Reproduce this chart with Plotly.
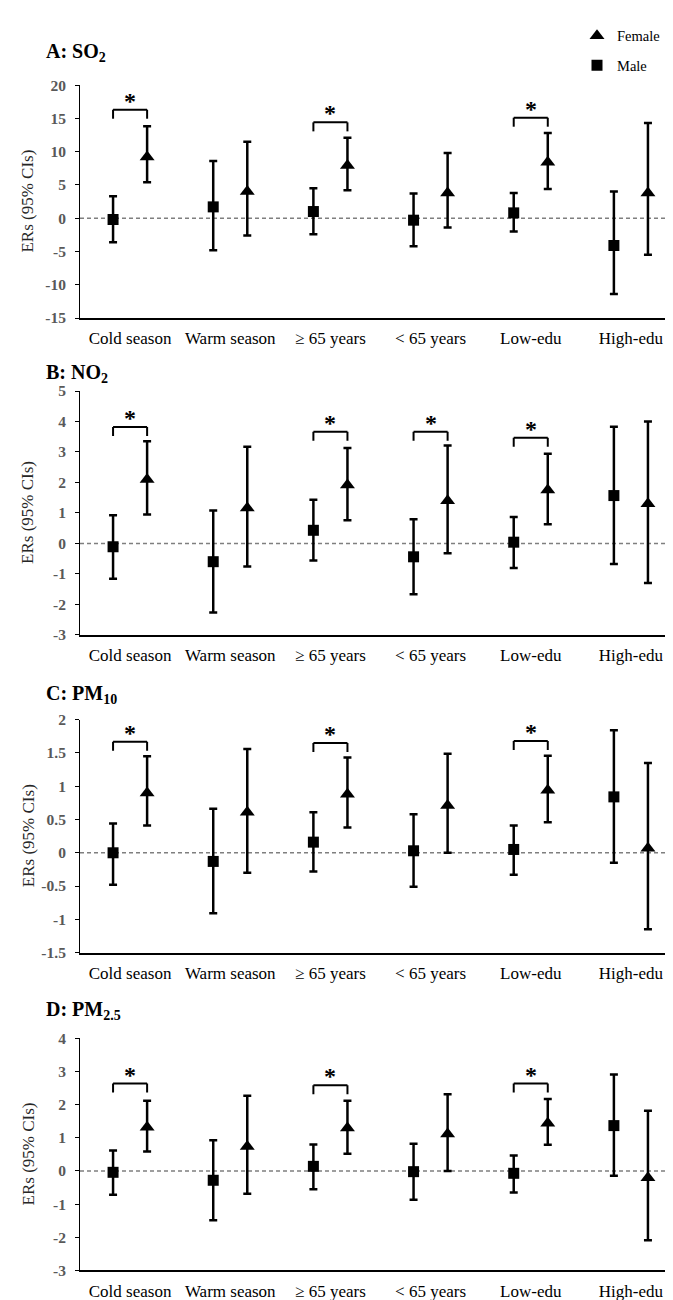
import plotly.graph_objects as go

# ---------------- data ----------------
categories = ["Cold season", "Warm season", "\u2265 65 years", "< 65 years", "Low-edu", "High-edu"]

panel_titles = ["A: SO<sub>2</sub>", "B: NO<sub>2</sub>", "C: PM<sub>10</sub>", "D: PM<sub>2.5</sub>"]

A_male = [-0.2, 1.7, 1.0, -0.3, 0.8, -4.1]
A_male_lo = [-3.6, -4.8, -2.4, -4.2, -2.0, -11.4]
A_male_hi = [3.3, 8.6, 4.5, 3.7, 3.8, 4.0]
A_female = [9.2, 4.0, 7.9, 3.8, 8.4, 3.8]
A_female_lo = [5.4, -2.6, 4.2, -1.4, 4.4, -5.5]
A_female_hi = [13.8, 11.5, 12.1, 9.8, 12.8, 14.3]
A_sig = [0, 2, 4]
A_sig_h = [16.3, 14.4, 15.1]
A_ticks = [20, 15, 10, 5, 0, -5, -10, -15]
A_ticktext = ["20", "15", "10", "5", "0", "-5", "-10", "-15"]

B_male = [-0.11, -0.6, 0.43, -0.44, 0.04, 1.57]
B_male_lo = [-1.16, -2.27, -0.56, -1.67, -0.81, -0.68]
B_male_hi = [0.92, 1.08, 1.43, 0.79, 0.87, 3.83]
B_female = [2.1, 1.16, 1.92, 1.4, 1.75, 1.3]
B_female_lo = [0.95, -0.76, 0.76, -0.32, 0.63, -1.3]
B_female_hi = [3.35, 3.17, 3.13, 3.21, 2.94, 4.0]
B_sig = [0, 2, 3, 4]
B_sig_h = [3.82, 3.66, 3.66, 3.47]
B_ticks = [5, 4, 3, 2, 1, 0, -1, -2, -3]
B_ticktext = ["5", "4", "3", "2", "1", "0", "-1", "-2", "-3"]

C_male = [0.0, -0.13, 0.16, 0.03, 0.05, 0.84]
C_male_lo = [-0.48, -0.91, -0.28, -0.51, -0.33, -0.15]
C_male_hi = [0.44, 0.66, 0.61, 0.58, 0.41, 1.84]
C_female = [0.9, 0.61, 0.88, 0.71, 0.94, 0.07]
C_female_lo = [0.41, -0.30, 0.38, 0.0, 0.46, -1.15]
C_female_hi = [1.45, 1.56, 1.43, 1.49, 1.46, 1.35]
C_sig = [0, 2, 4]
C_sig_h = [1.67, 1.65, 1.68]
C_ticks = [2, 1.5, 1, 0.5, 0, -0.5, -1, -1.5]
C_ticktext = ["2", "1.5", "1", "0.5", "0", "-0.5", "-1", "-1.5"]

D_male = [-0.04, -0.28, 0.14, -0.02, -0.07, 1.37]
D_male_lo = [-0.72, -1.49, -0.55, -0.87, -0.65, -0.14]
D_male_hi = [0.62, 0.93, 0.8, 0.82, 0.47, 2.91]
D_female = [1.32, 0.74, 1.3, 1.12, 1.44, -0.2]
D_female_lo = [0.59, -0.69, 0.52, 0.0, 0.79, -2.09]
D_female_hi = [2.12, 2.27, 2.12, 2.32, 2.17, 1.82]
D_sig = [0, 2, 4]
D_sig_h = [2.64, 2.59, 2.64]
D_ticks = [4, 3, 2, 1, 0, -1, -2, -3]
D_ticktext = ["4", "3", "2", "1", "0", "-1", "-2", "-3"]

panels = [
    (A_male, A_male_lo, A_male_hi, A_female, A_female_lo, A_female_hi, A_sig, A_sig_h, A_ticks, A_ticktext),
    (B_male, B_male_lo, B_male_hi, B_female, B_female_lo, B_female_hi, B_sig, B_sig_h, B_ticks, B_ticktext),
    (C_male, C_male_lo, C_male_hi, C_female, C_female_lo, C_female_hi, C_sig, C_sig_h, C_ticks, C_ticktext),
    (D_male, D_male_lo, D_male_hi, D_female, D_female_lo, D_female_hi, D_sig, D_sig_h, D_ticks, D_ticktext),
]

# ---------------- layout constants ----------------
W, H = 673, 1300
FONT = "Liberation Serif"
OFF = 0.17
# panel vertical pixel extents (top, bottom)
panel_px = [(69, 305), (379, 626), (712, 948), (1035, 1270)]
title_px = [36, 361, 686, 1007]
x_left_px = 72

fig = go.Figure()
layout = dict(
    width=W, height=H,
    margin=dict(l=0, r=0, t=0, b=0),
    paper_bgcolor="white", plot_bgcolor="white",
    font=dict(family=FONT, color="black"),
    showlegend=True,
)
shapes = []
annotations = []

for k, (m, mlo, mhi, f, flo, fhi, sig, sigh, tv, tt) in enumerate(panels):
    n = k + 1
    xa = "x" if n == 1 else f"x{n}"
    ya = "y" if n == 1 else f"y{n}"
    xs_m = [i - OFF for i in range(len(categories))]
    xs_f = [i + OFF for i in range(len(categories))]
    eb = dict(thickness=2.5, width=4, color="black")
    fig.add_trace(go.Scatter(
        x=xs_m, y=m, mode="markers", xaxis=xa, yaxis=ya, showlegend=False,
        marker=dict(symbol="square", size=11, color="black"),
        error_y=dict(type="data", symmetric=False,
                     array=[h - v for h, v in zip(mhi, m)],
                     arrayminus=[v - l for v, l in zip(m, mlo)], **eb),
        cliponaxis=False))
    fig.add_trace(go.Scatter(
        x=xs_f, y=f, mode="markers", xaxis=xa, yaxis=ya, showlegend=False,
        marker=dict(symbol="triangle-up", size=13, color="black"),
        error_y=dict(type="data", symmetric=False,
                     array=[h - v for h, v in zip(fhi, f)],
                     arrayminus=[v - l for v, l in zip(f, flo)], **eb),
        cliponaxis=False))

    top, bot = panel_px[k]
    layout[f"xaxis{'' if n == 1 else n}"] = dict(
        domain=[x_left_px / W, 1.0], anchor=ya, range=[-0.5, len(categories) - 0.5],
        tickvals=list(range(len(categories))), ticktext=categories,
        showline=True, linecolor="black", linewidth=2, ticks="",
        showgrid=False, zeroline=False, ticklabelstandoff=4,
        tickfont=dict(family=FONT, size=17, color="black"),
    )
    layout[f"yaxis{'' if n == 1 else n}"] = dict(
        domain=[1 - bot / H, 1 - top / H], anchor=xa,
        range=[min(tv), max(tv)], tickvals=tv, ticktext=tt,
        showline=True, linecolor="black", linewidth=1,
        ticks="outside", ticklen=4, tickcolor="black", tickwidth=1,
        showgrid=False, zeroline=False, ticklabelstandoff=6,
        tickfont=dict(family=FONT, size=15.5, color="#595959", weight="bold"),
    )
    # dashed zero line
    shapes.append(dict(type="line", xref=f"{xa} domain", yref=ya, x0=0, x1=1, y0=0, y1=0,
                       line=dict(color="#7f7f7f", width=1.5, dash="4px,3px"), layer="below"))
    # significance brackets
    for ci, hgt in zip(sig, sigh):
        shapes.append(dict(type="line", xref=xa, yref=ya, x0=ci - OFF, x1=ci + OFF, y0=hgt, y1=hgt,
                           line=dict(color="black", width=2)))
        for xx in (ci - OFF, ci + OFF):
            shapes.append(dict(type="line", xref=xa, yref=ya, x0=xx, x1=xx,
                               ysizemode="pixel", yanchor=hgt, y0=-9, y1=0,
                               line=dict(color="black", width=2)))
        annotations.append(dict(x=ci, y=hgt, xref=xa, yref=ya, text="<b>*</b>", showarrow=False,
                                yanchor="bottom", yshift=-6,
                                font=dict(family=FONT, size=24, color="black")))
    # panel title
    annotations.append(dict(x=36 / W, y=1 - title_px[k] / H, xref="paper", yref="paper",
                            text=f"<b>{panel_titles[k]}</b>", showarrow=False,
                            xanchor="left", yanchor="middle",
                            font=dict(family=FONT, size=20, color="black")))
    # y-axis title
    annotations.append(dict(x=20 / W, y=1 - (top + bot) / 2 / H, xref="paper", yref="paper",
                            text="ERs (95% CIs)", showarrow=False, textangle=-90,
                            xanchor="center", yanchor="middle",
                            font=dict(family=FONT, size=17, color="#262626")))

# legend entries (marker only)
fig.add_trace(go.Scatter(x=[None], y=[None], mode="markers", name="Female", legend="legend",
                         marker=dict(symbol="triangle-up", size=13, color="black")))
fig.add_trace(go.Scatter(x=[None], y=[None], mode="markers", name="Male", legend="legend2",
                         marker=dict(symbol="square", size=11, color="black")))

leg_common = dict(xanchor="left", yanchor="middle", bgcolor="rgba(0,0,0,0)",
                  font=dict(family=FONT, size=14.5, color="black"))
layout["legend"] = dict(x=569 / W, y=1 - 19 / H, **leg_common)
layout["legend2"] = dict(x=569 / W, y=1 - 49 / H, **leg_common)
layout["shapes"] = shapes
layout["annotations"] = annotations
fig.update_layout(**layout)

fig.write_html("out.html")
